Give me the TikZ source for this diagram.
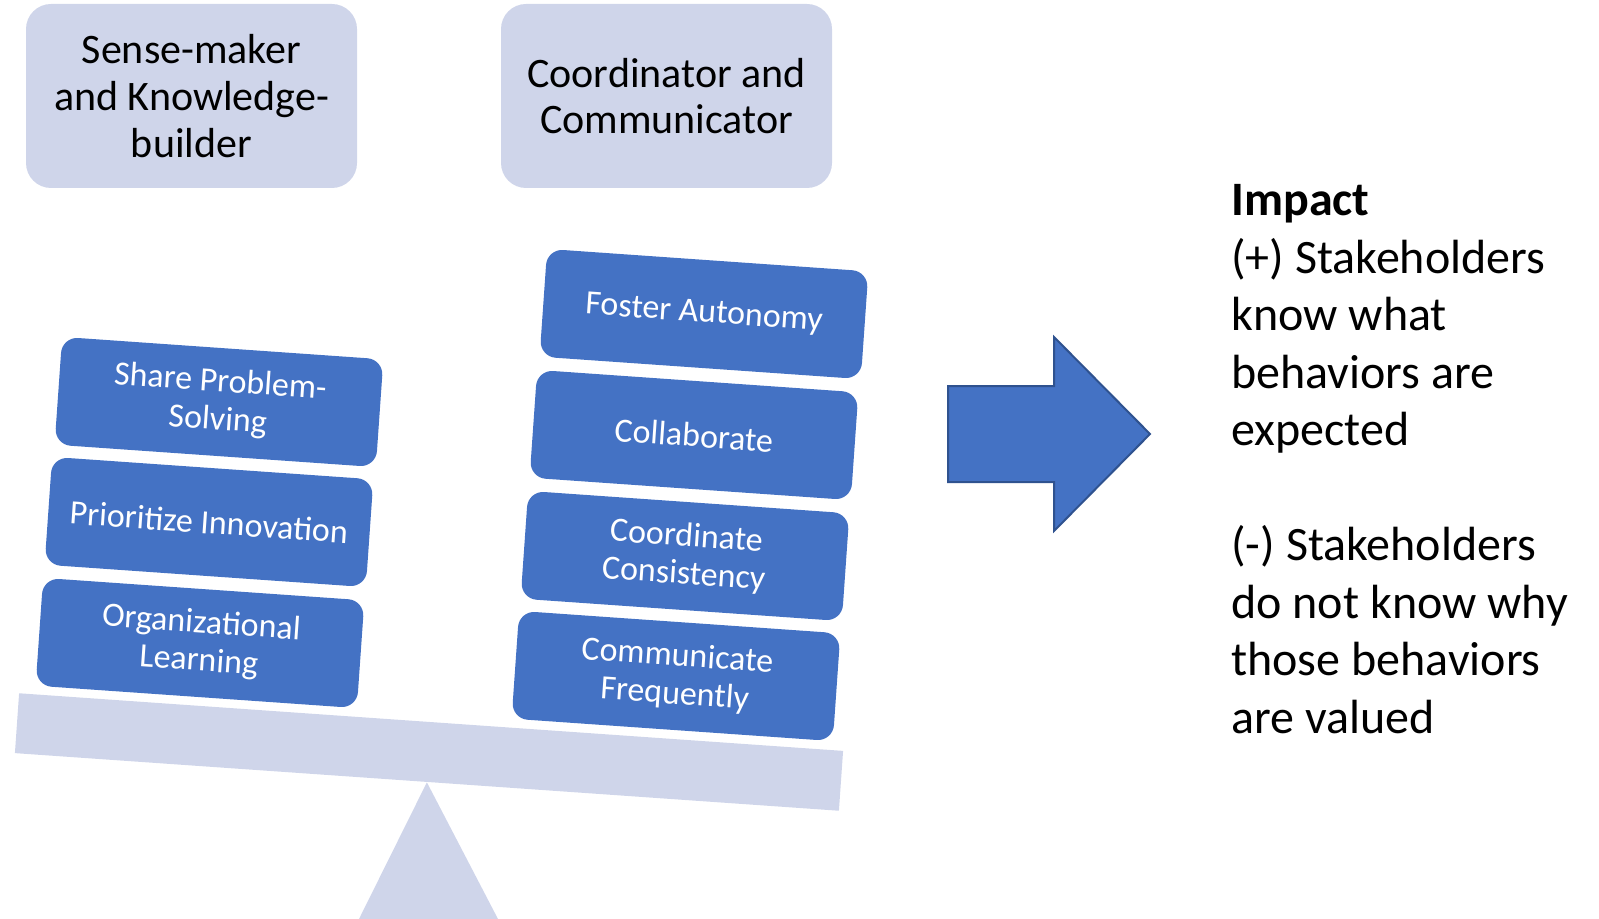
\documentclass[tikz,border=0pt]{standalone}
\usepackage{fontspec}
\setmainfont{Carlito}

\definecolor{roleblue}{HTML}{4472C4}
\definecolor{rolelight}{HTML}{CFD5EA}
\definecolor{roleedge}{HTML}{2F528F}

\tikzset{
	role/.style={fill=rolelight, rounded corners=12.5pt, inner sep=0pt,
		minimum width=165.5pt, minimum height=92pt, align=center,
		font=\fontsize{21}{23.3}\selectfont},
	behaviour/.style={fill=roleblue, text=white, rounded corners=8pt, inner sep=0pt,
		minimum width=161pt, minimum height=54pt, align=center, rotate=-4,
		font=\fontsize{17}{19}\selectfont},
}

\begin{document}
\begin{tikzpicture}[x=0.5pt,y=-0.5pt]
	\useasboundingbox (0,0) rectangle (1599,919);
	
	% the two roles
	\node[role] (sense) at (191.5,96) {Sense-maker\\and Knowledge-\\builder};
	\node[role] (coord) at (666.5,96) {Coordinator and\\Communicator};
	
	% seesaw
	\node[fill=rolelight, inner sep=0pt, minimum width=413pt, minimum height=30pt,
		rotate=-4] (beam) at (429,752) {};
	\fill[rolelight] (beam.south) -- (498,919) -- (359,919) -- cycle;
	
	% left pile
	\node[behaviour] (share) at (219,402) {Share Problem-\\Solving};
	\node[behaviour] (prior) at (209,522) {Prioritize Innovation};
	\node[behaviour] (learn) at (200,643) {Organizational\\Learning};
	
	% right pile
	\node[behaviour] (foster) at (704,314) {Foster Autonomy};
	\node[behaviour] (collab) at (694,435) {Collaborate};
	\node[behaviour] (consist) at (685,556) {Coordinate\\Consistency};
	\node[behaviour] (commun) at (676,676) {Communicate\\Frequently};
	
	% big arrow
	\filldraw[fill=roleblue, draw=roleedge, line width=1pt]
		(948,386) -- (1054,386) -- (1054,337) -- (1150,434)
		-- (1054,531) -- (1054,482) -- (948,482) -- cycle;
	
	% base anchor sits on the last line
	\node[anchor=base west, align=left, inner sep=0pt,
		font=\fontsize{24}{28.75}\selectfont] (impact) at (1231,733)
		{\textbf{Impact}\\(+) Stakeholders\\know what\\behaviors are\\expected\\[28.75pt]%
		(-) Stakeholders\\do not know why\\those behaviors\\are valued};
	
\end{tikzpicture}
\end{document}
